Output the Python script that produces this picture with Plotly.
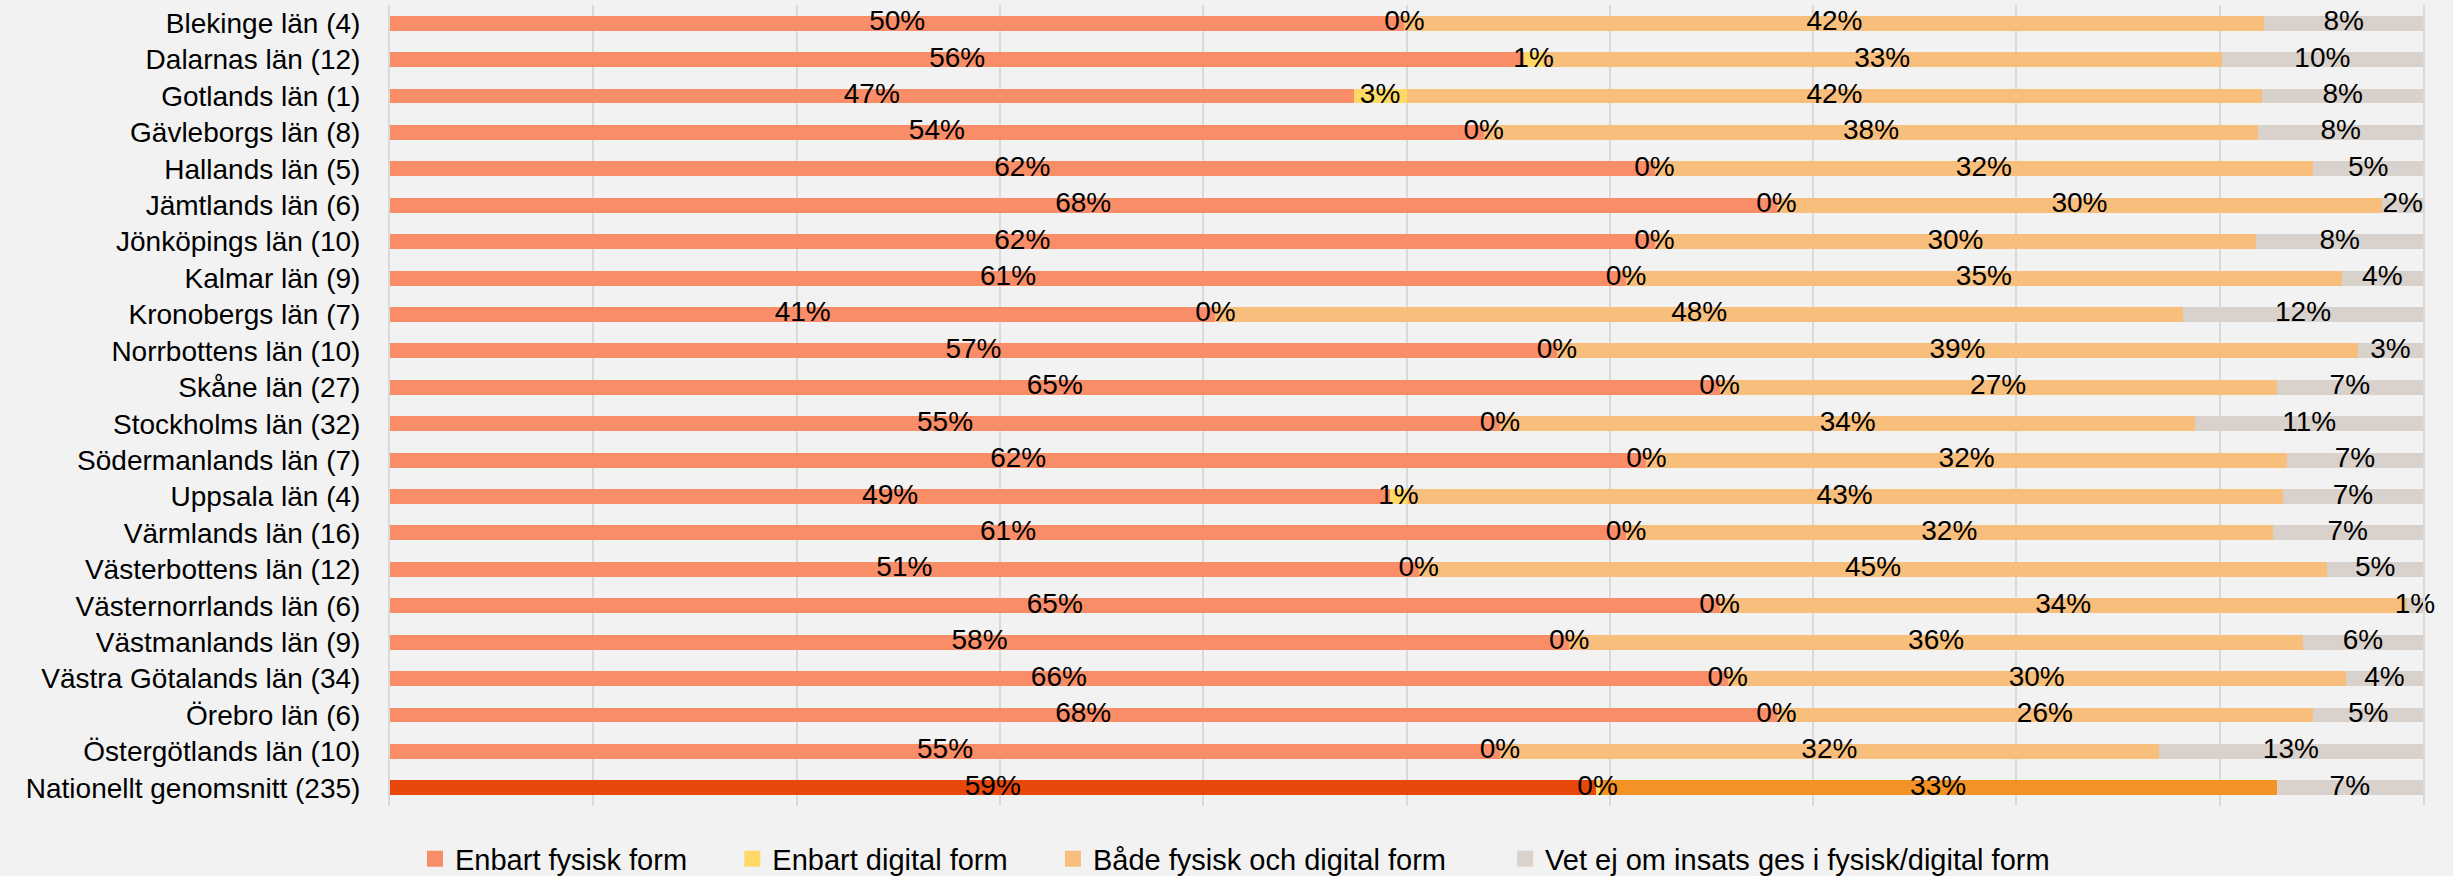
import plotly.graph_objects as go

categories = [
    "Blekinge län (4)", "Dalarnas län (12)", "Gotlands län (1)", "Gävleborgs län (8)",
    "Hallands län (5)", "Jämtlands län (6)", "Jönköpings län (10)", "Kalmar län (9)",
    "Kronobergs län (7)", "Norrbottens län (10)", "Skåne län (27)", "Stockholms län (32)",
    "Södermanlands län (7)", "Uppsala län (4)", "Värmlands län (16)", "Västerbottens län (12)",
    "Västernorrlands län (6)", "Västmanlands län (9)", "Västra Götalands län (34)",
    "Örebro län (6)", "Östergötlands län (10)", "Nationellt genomsnitt (235)",
]

series_names = [
    "Enbart fysisk form",
    "Enbart digital form",
    "Både fysisk och digital form",
    "Vet ej om insats ges i fysisk/digital form",
]

fysisk = [49.9, 55.8, 47.4, 53.8, 62.2, 68.2, 62.2, 60.8, 40.6, 57.4, 65.4,
          54.6, 61.8, 49.2, 60.8, 50.6, 65.4, 58.0, 65.8, 68.2, 54.6, 59.3]
digital = [0.0, 0.9, 2.6, 0.0, 0.0, 0.0, 0.0, 0.0, 0.0, 0.0, 0.0,
           0.0, 0.0, 0.8, 0.0, 0.0, 0.0, 0.0, 0.0, 0.0, 0.0, 0.2]
bada = [42.3, 33.4, 42.1, 38.1, 32.4, 29.8, 29.6, 35.2, 47.6, 39.4, 27.4,
        34.2, 31.5, 43.1, 31.8, 44.7, 33.8, 36.1, 30.4, 26.4, 32.4, 33.3]
vetej = [7.8, 9.9, 7.9, 8.1, 5.4, 2.0, 8.2, 4.0, 11.8, 3.2, 7.2,
         11.2, 6.7, 6.9, 7.4, 4.7, 0.8, 5.9, 3.8, 5.4, 13.0, 7.2]

region_colors = ["#F98D68", "#FFD966", "#F8BF7C", "#D9D2CC"]
national_colors = ["#E8470B", "#FFD966", "#F39325", "#D9D2CC"]

all_series = [fysisk, digital, bada, vetej]
FONT = "Liberation Sans, Arial, sans-serif"
FS = 28
LFS = 29
legend_pad = ["\u00a0" * 5, "\u00a0" * 5, "\u00a0" * 6 + "\u2009", ""]

fig = go.Figure()
n = len(categories)
cum = [0.0] * n
for i, (name, vals, rc, nc) in enumerate(zip(series_names, all_series, region_colors, national_colors)):
    frac = [v / 100 for v in vals]
    colors = [rc] * (n - 1) + [nc]
    fig.add_trace(go.Bar(
        y=categories, x=frac, orientation="h", name=name,
        marker=dict(color=colors, line=dict(width=0)),
        hoverinfo="skip", showlegend=False,
    ))
    mids = [c + f / 2 for c, f in zip(cum, frac)]
    fig.add_trace(go.Scatter(
        y=categories, x=mids, mode="text",
        text=[f"{v:.0f}%" for v in vals],
        textposition="middle center",
        textfont=dict(family=FONT, size=FS, color="#000000"),
        showlegend=False, hoverinfo="skip", cliponaxis=False,
    ))
    cum = [c + f for c, f in zip(cum, frac)]

# legend entries (square swatches)
for name, rc, pad in zip(series_names, region_colors, legend_pad):
    fig.add_trace(go.Scatter(
        x=[None], y=[None], mode="markers", name=name + pad,
        marker=dict(symbol="square", size=17, color=rc),
        showlegend=True, hoverinfo="skip",
    ))

fig.update_layout(
    width=2453, height=876,
    barmode="stack", bargap=0.59,
    paper_bgcolor="#F2F2F2", plot_bgcolor="#F2F2F2",
    margin=dict(l=390, r=30, t=5, b=70),
    font=dict(family=FONT, size=FS, color="#000000"),
    legend=dict(
        orientation="h", xref="container", yref="container",
        x=415 / 2453, xanchor="left", y=0.0194, yanchor="middle",
        font=dict(family=FONT, size=LFS), bgcolor="rgba(0,0,0,0)",
        traceorder="normal", itemsizing="trace",
    ),
    showlegend=True,
)
fig.update_xaxes(
    range=[0, 1], showgrid=True, dtick=0.1, tick0=0, gridcolor="#D9D9D9", gridwidth=2,
    showticklabels=False, zeroline=False, showline=False,
)
fig.update_yaxes(
    range=[n - 0.5, -0.5], autorange=False, showgrid=False, showline=True, mirror=True,
    linecolor="#D9D9D9", linewidth=2, ticks="", ticklabelstandoff=22,
    tickfont=dict(family=FONT, size=FS),
)

fig.write_html("out.html", config={"displayModeBar": False},
               post_script="document.body.style.margin='0';")
